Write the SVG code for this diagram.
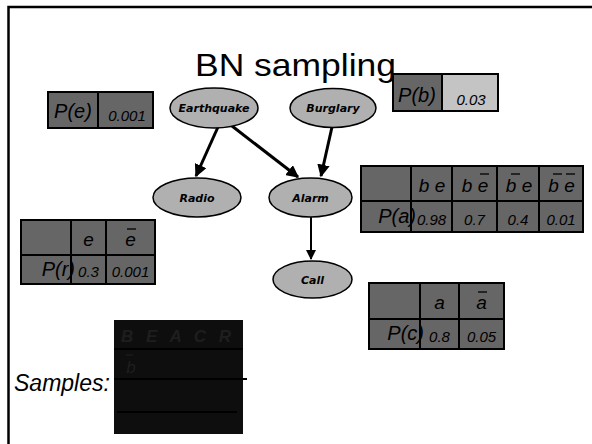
<svg xmlns="http://www.w3.org/2000/svg" width="592" height="444" viewBox="0 0 592 444">
<defs>
<marker id="ah" viewBox="0 0 10 10" refX="9" refY="5" markerWidth="4.2" markerHeight="4.2" orient="auto" markerUnits="strokeWidth">
<path d="M0,0 L10,5 L0,10 z" fill="#000"/>
</marker>
<marker id="ah2" viewBox="0 0 10 10" refX="9" refY="5" markerWidth="5" markerHeight="5" orient="auto" markerUnits="strokeWidth">
<path d="M0,0 L10,5 L0,10 z" fill="#000"/>
</marker>
<style>
.cell{fill:#666;stroke:#000;stroke-width:2}
.grid{stroke:#000;stroke-width:2}
.node{fill:#b0b0b0;stroke:#000;stroke-width:1.5}
.nl{font-family:"DejaVu Sans",sans-serif;font-weight:bold;font-style:italic;font-size:11px;fill:#000;text-anchor:middle}
.t{font-family:"Liberation Sans",Arial,sans-serif;font-style:italic;fill:#000;text-anchor:middle}
.r{text-anchor:end}
.big{font-size:20px}
.hd{font-size:19px}
.val{font-size:15px}
.bar{stroke:#000;stroke-width:1.3}
.edge{stroke:#000;stroke-width:3;fill:none}
</style>
</defs>
<rect width="592" height="444" fill="#fff"/>
<path d="M8.5,444 V7 H592" fill="none" stroke="#000" stroke-width="2.5"/>
<text x="195" y="76" font-family="Liberation Sans,Arial,sans-serif" font-size="32" textLength="201" lengthAdjust="spacingAndGlyphs">BN sampling</text>

<g id="pe">
<rect class="cell" x="48" y="92" width="105" height="36"/>
<line class="grid" x1="98" y1="92" x2="98" y2="128"/>
<text class="t big" x="73" y="118">P(e)</text>
<text class="t val" x="127" y="121">0.001</text>
</g>

<g id="pb">
<rect x="393" y="74" width="105" height="37" fill="#c4c4c4" stroke="#000" stroke-width="2"/>
<rect x="393" y="74" width="49" height="37" fill="#666" stroke="#000" stroke-width="2"/>
<text class="t big" x="417" y="102">P(b)</text>
<text class="t val" x="471" y="105">0.03</text>
</g>

<g id="connectors">
<line class="edge" x1="218" y1="127" x2="196" y2="176" marker-end="url(#ah)"/>
<line class="edge" x1="232" y1="126" x2="298" y2="177" marker-end="url(#ah)"/>
<line class="edge" x1="332" y1="127" x2="321" y2="176" marker-end="url(#ah)"/>
<line x1="311" y1="217" x2="311" y2="259" stroke="#000" stroke-width="2" marker-end="url(#ah2)"/>
</g>

<g id="earthquake">
<ellipse class="node" cx="214" cy="108" rx="44" ry="20"/>
<text class="nl" x="214" y="112">Earthquake</text>
</g>
<g id="burglary">
<ellipse class="node" cx="333" cy="108" rx="43" ry="19.5"/>
<text class="nl" x="333" y="112">Burglary</text>
</g>
<g id="radio">
<ellipse class="node" cx="197" cy="197.5" rx="44" ry="19.5"/>
<text class="nl" x="197" y="201.5">Radio</text>
</g>
<g id="alarm">
<ellipse class="node" cx="310.5" cy="197.5" rx="41.5" ry="19.5"/>
<text class="nl" x="310.5" y="201.5">Alarm</text>
</g>
<g id="call">
<ellipse class="node" cx="312.5" cy="279.5" rx="39.5" ry="18.5"/>
<text class="nl" x="312.5" y="283.5">Call</text>
</g>

<g id="pa">
<rect class="cell" x="361" y="166" width="222" height="66"/>
<line class="grid" x1="361" y1="201" x2="583" y2="201"/>
<line class="grid" x1="411" y1="166" x2="411" y2="232"/>
<line class="grid" x1="452" y1="166" x2="452" y2="232"/>
<line class="grid" x1="497" y1="166" x2="497" y2="232"/>
<line class="grid" x1="539" y1="166" x2="539" y2="232"/>
<text class="t hd" x="432" y="192">b e</text>
<text class="t hd" x="475" y="192">b e</text>
<text class="t hd" x="519" y="192">b e</text>
<text class="t hd" x="561.5" y="192">b e</text>
<line class="bar" x1="480" y1="174" x2="489" y2="174"/>
<line class="bar" x1="511" y1="174" x2="520" y2="174"/>
<line class="bar" x1="553" y1="174" x2="562" y2="174"/>
<line class="bar" x1="566" y1="174" x2="575" y2="174"/>
<text class="t big r" x="416" y="223">P(a)</text>
<text class="t val" x="431.5" y="225">0.98</text>
<text class="t val" x="474.5" y="225">0.7</text>
<text class="t val" x="518" y="225">0.4</text>
<text class="t val" x="561" y="225">0.01</text>
</g>

<g id="pr">
<rect class="cell" x="21" y="220" width="134" height="64"/>
<line class="grid" x1="21" y1="255" x2="155" y2="255"/>
<line class="grid" x1="71" y1="220" x2="71" y2="284"/>
<line class="grid" x1="106" y1="220" x2="106" y2="284"/>
<text class="t hd" x="88.5" y="246">e</text>
<text class="t hd" x="130.5" y="246">e</text>
<line class="bar" x1="127" y1="229" x2="136" y2="229"/>
<text class="t big r" x="75" y="276">P(r)</text>
<text class="t val" x="88.5" y="277">0.3</text>
<text class="t val" x="130.5" y="277">0.001</text>
</g>

<g id="pc">
<rect class="cell" x="369" y="283" width="135" height="66"/>
<line class="grid" x1="369" y1="319" x2="504" y2="319"/>
<line class="grid" x1="420" y1="283" x2="420" y2="349"/>
<line class="grid" x1="459" y1="283" x2="459" y2="349"/>
<text class="t hd" x="439.5" y="309">a</text>
<text class="t hd" x="481.5" y="309">a</text>
<line class="bar" x1="478" y1="292" x2="487" y2="292"/>
<text class="t big r" x="424" y="340">P(c)</text>
<text class="t val" x="439.5" y="342">0.8</text>
<text class="t val" x="481.5" y="342">0.05</text>
</g>

<g id="samples">
<text x="14" y="391" font-family="Liberation Sans,Arial,sans-serif" font-style="italic" font-size="23">Samples:</text>
<rect x="114" y="320" width="129" height="114" fill="#0e0e0e"/>
<line x1="114" y1="349" x2="243" y2="349" stroke="#000" stroke-width="2"/>
<line x1="114" y1="379" x2="247" y2="379" stroke="#000" stroke-width="2"/>
<line x1="117" y1="412" x2="237" y2="412" stroke="#000" stroke-width="2"/>
<text x="178" y="342" font-family="Liberation Sans,Arial,sans-serif" font-style="italic" font-weight="bold" font-size="17" fill="#1e1e1e" text-anchor="middle" letter-spacing="4">B E A C R</text>
<text x="131" y="373" font-family="Liberation Sans,Arial,sans-serif" font-style="italic" font-size="17" fill="#1e1e1e" text-anchor="middle">b</text>
<line x1="126" y1="355" x2="133" y2="355" stroke="#1e1e1e" stroke-width="1.2"/>
</g>
</svg>
